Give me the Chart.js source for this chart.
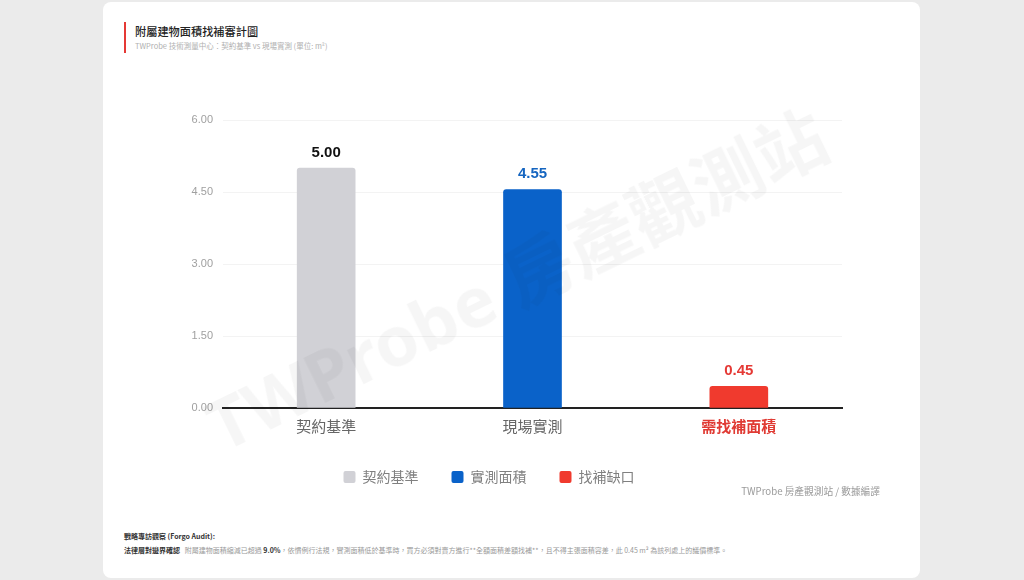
<!DOCTYPE html>
<html lang="zh-Hant">
<head>
<meta charset="utf-8">
<title>附屬建物面積找補審計圖</title>
<script src="https://cdn.jsdelivr.net/npm/chart.js@4.4.1/dist/chart.umd.min.js"></script>
<style>
  html, body { margin: 0; padding: 0; }
  body {
    width: 1024px; height: 580px; overflow: hidden;
    background: #ebebeb;
    font-family: "Noto Sans CJK TC", "Noto Sans", sans-serif;
  }
  .card {
    position: absolute; left: 103px; top: 2px; width: 817px; height: 576px;
    background: #fff; border-radius: 8px;
  }
  .title {
    position: absolute; left: 21px; top: 20px; height: 31px;
    border-left: 2px solid #e53935; padding-left: 9px;
  }
  .title h1 { margin: 0; font-size: 11.2px; font-weight: 500; color: #222; line-height: 18px; }
  .title p { margin: 0; font-size: 7.5px; color: #b0b0b0; line-height: 12px; }
  .chart-box { position: absolute; left: 77px; top: 98px; width: 700px; height: 393px; }
  .watermark {
    position: absolute; left: 155px; top: 226px; width: 720px; text-align: center;
    transform: rotate(-26deg); transform-origin: 50% 50%;
    font: 700 70px "Noto Sans", "Noto Sans CJK TC", sans-serif;
    color: rgba(0,0,0,0.035); white-space: nowrap; pointer-events: none;
  }
  .source { position: absolute; right: 40px; top: 482px; font-size: 9.7px; color: #9a9a9a; }
  .notes { position: absolute; left: 21px; top: 527px; font-size: 7px; color: #999; line-height: 14px; }
  .notes b { color: #333; }
</style>
</head>
<body>
<div class="card">
  <div class="title">
    <h1>附屬建物面積找補審計圖</h1>
    <p>TWProbe 技術測量中心：契約基準 vs 現場實測 (單位: m²)</p>
  </div>
  <div class="chart-box"><canvas id="chart" width="700" height="393"></canvas></div>
  <div class="source">TWProbe 房產觀測站 / 數據編譯</div>
  <div class="notes">
    <div><b>戰略專訪觀察 (Forgo Audit):</b></div>
    <div><b>法律層對邊界確認</b>&nbsp;&nbsp; 附屬建物面積縮減已超過 <b>9.0%</b>，依慣例行法規，實測面積低於基準時，買方必須對賣方進行**全額面積差額找補**，且不得主張面積容差，此 0.45 m² 為該列處上的議價標準。</div>
  </div>
</div>
<div class="watermark">TWProbe 房產觀測站</div>

<script>
// 類別與數值
const categories = ['契約基準', '現場實測', '需找補面積'];
const contractValues = [5.00, null, null];
const measuredValues = [null, 4.55, null];
const gapValues = [null, null, 0.45];
const seriesNames = ['契約基準', '實測面積', '找補缺口'];
const yTicks = [0, 1.5, 3, 4.5, 6];

const colors = ['#d1d1d6', '#0a62c9', '#f03a2e'];
const labelColors = ['#111111', '#1565c0', '#e53935'];

// 柱頂數值標籤
const valueLabels = {
    id: 'valueLabels',
    afterDatasetsDraw(chart) {
        const ctx = chart.ctx;
        ctx.save();
        ctx.font = 'bold 15px "Liberation Sans", Arial, sans-serif';
        ctx.textAlign = 'center';
        ctx.textBaseline = 'bottom';
        chart.data.datasets.forEach((ds, i) => {
            const meta = chart.getDatasetMeta(i);
            meta.data.forEach((bar, j) => {
                if (ds.data[j] == null) return;
                ctx.fillStyle = labelColors[i];
                ctx.fillText(ds.data[j].toFixed(2), bar.x, bar.y - 8);
            });
        });
        ctx.restore();
    }
};

// 圖例往左微調
const legendShift = {
    id: 'legendShift',
    afterLayout(chart) {
        const lg = chart.legend;
        lg.left -= 22; lg.right -= 22;
        lg.top += 1; lg.bottom += 1;
    }
};

function makeDataset(label, data, i) {
    return {
        label: label,
        data: data,
        backgroundColor: colors[i],
        borderRadius: { topLeft: 3, topRight: 3 },
        borderSkipped: 'bottom',
        grouped: false,
        barThickness: 58
    };
}

new Chart(document.getElementById('chart'), {
    type: 'bar',
    data: {
        labels: categories,
        datasets: [
            makeDataset(seriesNames[0], contractValues, 0),
            makeDataset(seriesNames[1], measuredValues, 1),
            makeDataset(seriesNames[2], gapValues, 2)
        ]
    },
    options: {
        responsive: false,
        animation: false,
        layout: { padding: { top: 20, right: 38, left: 0, bottom: 0 } },
        scales: {
            x: {
                grid: { display: false },
                border: { color: '#222', width: 2 },
                ticks: {
                    padding: 1,
                    maxRotation: 0,
                    font: ctx => ({ size: 15, weight: ctx.index === 2 ? 'bold' : 'normal', family: '"Noto Sans CJK TC", sans-serif' }),
                    color: ctx => ctx.index === 2 ? '#e03b34' : '#666'
                }
            },
            y: {
                min: 0,
                max: 6,
                afterFit: scale => { scale.width = 43; },
                afterBuildTicks: scale => { scale.ticks = yTicks.map(v => ({ value: v })); },
                grid: { color: '#f3f3f3', drawTicks: false },
                border: { display: false },
                ticks: {
                    padding: 10,
                    color: '#a0a0a0',
                    font: { size: 11, family: '"Liberation Sans", Arial, sans-serif' },
                    callback: v => Number(v).toFixed(2)
                }
            }
        },
        plugins: {
            legend: {
                position: 'bottom',
                labels: {
                    boxWidth: 12,
                    boxHeight: 12,
                    useBorderRadius: true,
                    borderRadius: 2,
                    padding: 33,
                    color: '#808080',
                    font: { size: 14, family: '"Noto Sans CJK TC", sans-serif' }
                }
            },
            tooltip: { enabled: false }
        }
    },
    plugins: [valueLabels, legendShift]
});
</script>
</body>
</html>
